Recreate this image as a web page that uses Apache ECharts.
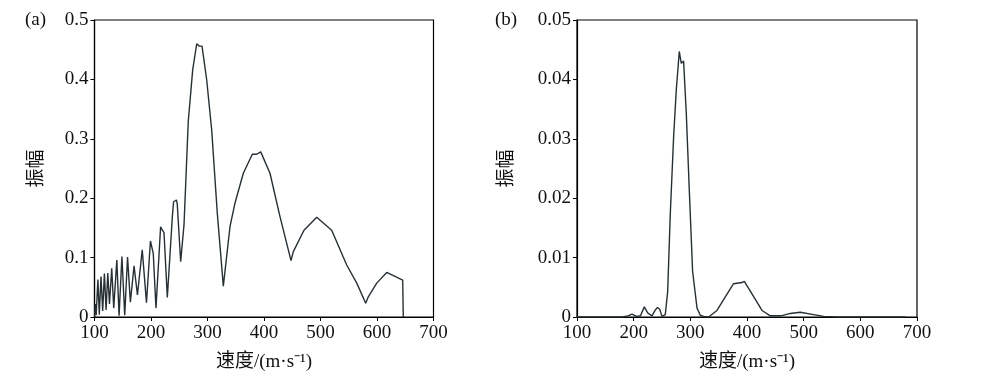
<!DOCTYPE html>
<html>
<head>
<meta charset="utf-8">
<title>振幅-速度</title>
<script src="https://cdn.jsdelivr.net/npm/echarts@6/dist/echarts.min.js"></script>
<style>
  html, body { margin: 0; padding: 0; background: #fff; }
  #chart { width: 1000px; height: 383px; }
</style>
</head>
<body>
<div id="chart"></div>
<script>
// (a) 速度 / 振幅
const velA = [100, 101.5, 103, 106, 108.5, 111.5, 114.5, 117.5, 120.5, 123.5, 126.5, 130.5, 134, 139.5, 143.5,
  148.5, 153.5, 158.5, 163.5, 170, 176, 184.5, 192, 199, 204, 208.8, 217, 219, 223, 228.9,
  238, 240, 245, 246.5, 252.5, 258.4, 266, 273.8, 280.9, 285.5, 290.3, 298.6, 307.4, 317.3, 328,
  339.8, 348.7, 363.4, 379.3, 387, 394.2, 410.6, 428.3, 447.8, 451.9, 470.8, 493.3, 519.8, 546.4,
  564.2, 580, 584.6, 599.5, 617.2, 645.5, 646.5];
const ampA = [0, 0.022, 0.003, 0.063, 0.004, 0.068, 0.01, 0.073, 0.012, 0.074, 0.022, 0.082, 0.015, 0.096, 0.002,
  0.102, 0.003, 0.101, 0.025, 0.086, 0.037, 0.113, 0.024, 0.128, 0.107, 0.015, 0.152, 0.148, 0.142, 0.033,
  0.172, 0.194, 0.197, 0.19, 0.093, 0.155, 0.33, 0.416, 0.46, 0.456, 0.456, 0.399, 0.315, 0.175, 0.052,
  0.152, 0.192, 0.242, 0.274, 0.274, 0.278, 0.242, 0.169, 0.095, 0.11, 0.146, 0.168, 0.146, 0.0875,
  0.057, 0.023, 0.034, 0.057, 0.075, 0.062, 0];

// (b) 速度 / 振幅
const velB = [100, 180, 190, 197, 205, 212, 218.8, 224.7, 232.3, 238.2, 242, 246, 250, 255.8, 260,
  264.6, 270.5, 275.2, 280.5, 284, 288.1, 292.9, 298.7, 304, 311.8, 317.6, 323.4, 332.2, 347, 361.7,
  376.3, 391.2, 395.2, 408.8, 426.5, 441.1, 460, 476.4, 494, 517.5, 535.2, 560, 680];
const ampB = [0, 0, 0.0002, 0.0005, 0.0001, 0.0002, 0.0017, 0.0007, 0.0002, 0.0012, 0.0016, 0.0013, 0.0001, 0.0004, 0.0043,
  0.0173, 0.0303, 0.0382, 0.0447, 0.0427, 0.0431, 0.0342, 0.0201, 0.0077, 0.0015, 0.0003, 0.0001, 0, 0.0011, 0.0034,
  0.0056, 0.0058, 0.006, 0.0039, 0.0011, 0.0002, 0.0002, 0.0006, 0.0008, 0.0004, 0.0001, 0, 0];

const xName = '速度/(m·s⁻¹)';
const yName = '振幅';
const panelLabels = ['(a)', '(b)'];

const serif = 'Liberation Serif, "Noto Sans CJK SC", serif';

function zip(xs, ys) {
  return xs.map(function (x, i) { return [x, ys[i]]; });
}

function xAxisOf(idx) {
  return {
    type: 'value', gridIndex: idx, min: 100, max: 700, interval: 100,
    name: xName, nameLocation: 'middle', nameGap: 36,
    nameTextStyle: { fontFamily: serif, fontSize: 19, color: '#111' },
    axisLine: { lineStyle: { color: '#000', width: 1.2 } },
    axisTick: { inside: false, length: 4, lineStyle: { color: '#000' } },
    axisLabel: { fontFamily: serif, fontSize: 19, color: '#111', margin: 7 },
    splitLine: { show: false }
  };
}

function yAxisOf(idx, max, interval, gap) {
  return {
    type: 'value', gridIndex: idx, min: 0, max: max, interval: interval,
    name: yName, nameLocation: 'middle', nameGap: gap, nameRotate: 90,
    nameTextStyle: { fontFamily: serif, fontSize: 19, color: '#111' },
    axisLine: { lineStyle: { color: '#000', width: 1.2 } },
    axisTick: { inside: false, length: 4, lineStyle: { color: '#000' } },
    axisLabel: { fontFamily: serif, fontSize: 19, color: '#111', margin: 6 },
    splitLine: { show: false }
  };
}

let myChart = echarts.init(document.getElementById('chart'));

let option = {
  backgroundColor: '#fff',
  animation: false,
  grid: [
    { left: 94.5, right: 566.5, top: 20, bottom: 66, show: true, borderColor: '#000', borderWidth: 1.2 },
    { left: 577, right: 83, top: 20, bottom: 66, show: true, borderColor: '#000', borderWidth: 1.2 }
  ],
  xAxis: [xAxisOf(0), xAxisOf(1)],
  yAxis: [yAxisOf(0, 0.5, 0.1, 48), yAxisOf(1, 0.05, 0.01, 60)],
  graphic: [
    { type: 'text', left: 25, top: 11, style: { text: panelLabels[0], font: '19px ' + serif, fill: '#111' } },
    { type: 'text', left: 495, top: 11, style: { text: panelLabels[1], font: '19px ' + serif, fill: '#111' } }
  ],
  series: [
    {
      type: 'line', xAxisIndex: 0, yAxisIndex: 0, showSymbol: false,
      lineStyle: { color: '#263034', width: 1.4 },
      data: zip(velA, ampA)
    },
    {
      type: 'line', xAxisIndex: 1, yAxisIndex: 1, showSymbol: false,
      lineStyle: { color: '#263034', width: 1.4 },
      data: zip(velB, ampB)
    }
  ]
};

myChart.setOption(option);
</script>
</body>
</html>
